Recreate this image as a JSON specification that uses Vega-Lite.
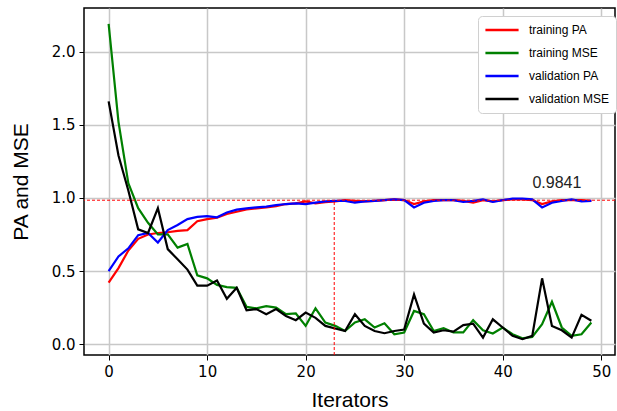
{
  "$schema": "https://vega.github.io/schema/vega-lite/v6.json",
  "autosize": "none",
  "width": 531,
  "height": 347,
  "padding": {"left": 84, "top": 8, "right": 2, "bottom": 56},
  "background": "white",
  "config": {
    "font": "Liberation Sans",
    "view": {"stroke": "black", "strokeWidth": 1.5},
    "axis": {
      "domain": false,
      "grid": true,
      "gridColor": "#c8c8c8",
      "gridWidth": 1.5,
      "tickColor": "black",
      "tickSize": 5,
      "tickWidth": 1,
      "labelFont": "DejaVu Sans",
      "labelFontSize": 15,
      "labelColor": "black",
      "labelPadding": 4,
      "titleFont": "Liberation Sans",
      "titleFontSize": 21,
      "titleFontWeight": "normal",
      "titleColor": "black"
    }
  },
  "layer": [
    {
      "data": {"values": [
        {"iter":0,"series":"training PA","value":0.42},{"iter":1,"series":"training PA","value":0.52},{"iter":2,"series":"training PA","value":0.64},{"iter":3,"series":"training PA","value":0.72},{"iter":4,"series":"training PA","value":0.75},{"iter":5,"series":"training PA","value":0.76},{"iter":6,"series":"training PA","value":0.765},{"iter":7,"series":"training PA","value":0.775},{"iter":8,"series":"training PA","value":0.78},{"iter":9,"series":"training PA","value":0.84},
        {"iter":10,"series":"training PA","value":0.855},{"iter":11,"series":"training PA","value":0.865},{"iter":12,"series":"training PA","value":0.89},{"iter":13,"series":"training PA","value":0.905},{"iter":14,"series":"training PA","value":0.921},{"iter":15,"series":"training PA","value":0.928},{"iter":16,"series":"training PA","value":0.935},{"iter":17,"series":"training PA","value":0.944},{"iter":18,"series":"training PA","value":0.958},{"iter":19,"series":"training PA","value":0.962},
        {"iter":20,"series":"training PA","value":0.976},{"iter":21,"series":"training PA","value":0.962},{"iter":22,"series":"training PA","value":0.971},{"iter":23,"series":"training PA","value":0.976},{"iter":24,"series":"training PA","value":0.985},{"iter":25,"series":"training PA","value":0.98},{"iter":26,"series":"training PA","value":0.976},{"iter":27,"series":"training PA","value":0.98},{"iter":28,"series":"training PA","value":0.985},{"iter":29,"series":"training PA","value":0.99},
        {"iter":30,"series":"training PA","value":0.985},{"iter":31,"series":"training PA","value":0.958},{"iter":32,"series":"training PA","value":0.976},{"iter":33,"series":"training PA","value":0.985},{"iter":34,"series":"training PA","value":0.985},{"iter":35,"series":"training PA","value":0.985},{"iter":36,"series":"training PA","value":0.98},{"iter":37,"series":"training PA","value":0.967},{"iter":38,"series":"training PA","value":0.985},{"iter":39,"series":"training PA","value":0.976},
        {"iter":40,"series":"training PA","value":0.985},{"iter":41,"series":"training PA","value":0.99},{"iter":42,"series":"training PA","value":0.99},{"iter":43,"series":"training PA","value":0.985},{"iter":44,"series":"training PA","value":0.958},{"iter":45,"series":"training PA","value":0.976},{"iter":46,"series":"training PA","value":0.985},{"iter":47,"series":"training PA","value":0.985},{"iter":48,"series":"training PA","value":0.985},{"iter":49,"series":"training PA","value":0.98},

        {"iter":0,"series":"training MSE","value":2.19},{"iter":1,"series":"training MSE","value":1.52},{"iter":2,"series":"training MSE","value":1.1},{"iter":3,"series":"training MSE","value":0.93},{"iter":4,"series":"training MSE","value":0.83},{"iter":5,"series":"training MSE","value":0.75},{"iter":6,"series":"training MSE","value":0.75},{"iter":7,"series":"training MSE","value":0.66},{"iter":8,"series":"training MSE","value":0.685},{"iter":9,"series":"training MSE","value":0.47},
        {"iter":10,"series":"training MSE","value":0.45},{"iter":11,"series":"training MSE","value":0.405},{"iter":12,"series":"training MSE","value":0.39},{"iter":13,"series":"training MSE","value":0.385},{"iter":14,"series":"training MSE","value":0.255},{"iter":15,"series":"training MSE","value":0.245},{"iter":16,"series":"training MSE","value":0.26},{"iter":17,"series":"training MSE","value":0.25},{"iter":18,"series":"training MSE","value":0.205},{"iter":19,"series":"training MSE","value":0.21},
        {"iter":20,"series":"training MSE","value":0.125},{"iter":21,"series":"training MSE","value":0.245},{"iter":22,"series":"training MSE","value":0.148},{"iter":23,"series":"training MSE","value":0.125},{"iter":24,"series":"training MSE","value":0.09},{"iter":25,"series":"training MSE","value":0.148},{"iter":26,"series":"training MSE","value":0.17},{"iter":27,"series":"training MSE","value":0.114},{"iter":28,"series":"training MSE","value":0.143},{"iter":29,"series":"training MSE","value":0.068},
        {"iter":30,"series":"training MSE","value":0.08},{"iter":31,"series":"training MSE","value":0.227},{"iter":32,"series":"training MSE","value":0.205},{"iter":33,"series":"training MSE","value":0.09},{"iter":34,"series":"training MSE","value":0.11},{"iter":35,"series":"training MSE","value":0.08},{"iter":36,"series":"training MSE","value":0.08},{"iter":37,"series":"training MSE","value":0.164},{"iter":38,"series":"training MSE","value":0.095},{"iter":39,"series":"training MSE","value":0.073},
        {"iter":40,"series":"training MSE","value":0.114},{"iter":41,"series":"training MSE","value":0.068},{"iter":42,"series":"training MSE","value":0.04},{"iter":43,"series":"training MSE","value":0.05},{"iter":44,"series":"training MSE","value":0.136},{"iter":45,"series":"training MSE","value":0.29},{"iter":46,"series":"training MSE","value":0.114},{"iter":47,"series":"training MSE","value":0.057},{"iter":48,"series":"training MSE","value":0.068},{"iter":49,"series":"training MSE","value":0.148},

        {"iter":0,"series":"validation PA","value":0.5},{"iter":1,"series":"validation PA","value":0.6},{"iter":2,"series":"validation PA","value":0.655},{"iter":3,"series":"validation PA","value":0.745},{"iter":4,"series":"validation PA","value":0.76},{"iter":5,"series":"validation PA","value":0.695},{"iter":6,"series":"validation PA","value":0.78},{"iter":7,"series":"validation PA","value":0.815},{"iter":8,"series":"validation PA","value":0.855},{"iter":9,"series":"validation PA","value":0.87},
        {"iter":10,"series":"validation PA","value":0.875},{"iter":11,"series":"validation PA","value":0.867},{"iter":12,"series":"validation PA","value":0.9},{"iter":13,"series":"validation PA","value":0.92},{"iter":14,"series":"validation PA","value":0.928},{"iter":15,"series":"validation PA","value":0.935},{"iter":16,"series":"validation PA","value":0.94},{"iter":17,"series":"validation PA","value":0.95},{"iter":18,"series":"validation PA","value":0.958},{"iter":19,"series":"validation PA","value":0.962},
        {"iter":20,"series":"validation PA","value":0.958},{"iter":21,"series":"validation PA","value":0.967},{"iter":22,"series":"validation PA","value":0.976},{"iter":23,"series":"validation PA","value":0.98},{"iter":24,"series":"validation PA","value":0.98},{"iter":25,"series":"validation PA","value":0.967},{"iter":26,"series":"validation PA","value":0.976},{"iter":27,"series":"validation PA","value":0.98},{"iter":28,"series":"validation PA","value":0.985},{"iter":29,"series":"validation PA","value":0.99},
        {"iter":30,"series":"validation PA","value":0.985},{"iter":31,"series":"validation PA","value":0.935},{"iter":32,"series":"validation PA","value":0.967},{"iter":33,"series":"validation PA","value":0.98},{"iter":34,"series":"validation PA","value":0.985},{"iter":35,"series":"validation PA","value":0.985},{"iter":36,"series":"validation PA","value":0.972},{"iter":37,"series":"validation PA","value":0.98},{"iter":38,"series":"validation PA","value":0.99},{"iter":39,"series":"validation PA","value":0.972},
        {"iter":40,"series":"validation PA","value":0.985},{"iter":41,"series":"validation PA","value":0.995},{"iter":42,"series":"validation PA","value":0.995},{"iter":43,"series":"validation PA","value":0.99},{"iter":44,"series":"validation PA","value":0.935},{"iter":45,"series":"validation PA","value":0.967},{"iter":46,"series":"validation PA","value":0.98},{"iter":47,"series":"validation PA","value":0.99},{"iter":48,"series":"validation PA","value":0.976},{"iter":49,"series":"validation PA","value":0.98},

        {"iter":0,"series":"validation MSE","value":1.66},{"iter":1,"series":"validation MSE","value":1.29},{"iter":2,"series":"validation MSE","value":1.05},{"iter":3,"series":"validation MSE","value":0.785},{"iter":4,"series":"validation MSE","value":0.76},{"iter":5,"series":"validation MSE","value":0.93},{"iter":6,"series":"validation MSE","value":0.65},{"iter":7,"series":"validation MSE","value":0.58},{"iter":8,"series":"validation MSE","value":0.51},{"iter":9,"series":"validation MSE","value":0.4},
        {"iter":10,"series":"validation MSE","value":0.4},{"iter":11,"series":"validation MSE","value":0.435},{"iter":12,"series":"validation MSE","value":0.31},{"iter":13,"series":"validation MSE","value":0.385},{"iter":14,"series":"validation MSE","value":0.232},{"iter":15,"series":"validation MSE","value":0.24},{"iter":16,"series":"validation MSE","value":0.205},{"iter":17,"series":"validation MSE","value":0.24},{"iter":18,"series":"validation MSE","value":0.193},{"iter":19,"series":"validation MSE","value":0.164},
        {"iter":20,"series":"validation MSE","value":0.216},{"iter":21,"series":"validation MSE","value":0.18},{"iter":22,"series":"validation MSE","value":0.125},{"iter":23,"series":"validation MSE","value":0.107},{"iter":24,"series":"validation MSE","value":0.09},{"iter":25,"series":"validation MSE","value":0.205},{"iter":26,"series":"validation MSE","value":0.125},{"iter":27,"series":"validation MSE","value":0.09},{"iter":28,"series":"validation MSE","value":0.075},{"iter":29,"series":"validation MSE","value":0.09},
        {"iter":30,"series":"validation MSE","value":0.1},{"iter":31,"series":"validation MSE","value":0.34},{"iter":32,"series":"validation MSE","value":0.14},{"iter":33,"series":"validation MSE","value":0.08},{"iter":34,"series":"validation MSE","value":0.095},{"iter":35,"series":"validation MSE","value":0.086},{"iter":36,"series":"validation MSE","value":0.13},{"iter":37,"series":"validation MSE","value":0.14},{"iter":38,"series":"validation MSE","value":0.045},{"iter":39,"series":"validation MSE","value":0.17},
        {"iter":40,"series":"validation MSE","value":0.114},{"iter":41,"series":"validation MSE","value":0.057},{"iter":42,"series":"validation MSE","value":0.034},{"iter":43,"series":"validation MSE","value":0.057},{"iter":44,"series":"validation MSE","value":0.45},{"iter":45,"series":"validation MSE","value":0.125},{"iter":46,"series":"validation MSE","value":0.095},{"iter":47,"series":"validation MSE","value":0.045},{"iter":48,"series":"validation MSE","value":0.2},{"iter":49,"series":"validation MSE","value":0.16}
      ]},
      "mark": {"type": "line", "strokeWidth": 2.2, "clip": true},
      "encoding": {
        "x": {
          "field": "iter", "type": "quantitative",
          "scale": {"domain": [-2.5, 51.4], "nice": false, "zero": false},
          "axis": {"values": [0, 10, 20, 30, 40, 50], "title": "Iterators", "titlePadding": 10, "format": "d"}
        },
        "y": {
          "field": "value", "type": "quantitative",
          "scale": {"domain": [-0.074, 2.298], "nice": false, "zero": false},
          "axis": {"values": [0, 0.5, 1, 1.5, 2], "format": ".1f", "title": "PA and MSE", "titlePadding": 20}
        },
        "color": {
          "field": "series", "type": "nominal",
          "scale": {
            "domain": ["training PA", "training MSE", "validation PA", "validation MSE"],
            "range": ["#ff0000", "#008000", "#0000ff", "#000000"]
          },
          "legend": {
            "orient": "none", "legendX": 394, "legendY": 8,
            "title": null,
            "symbolType": "stroke", "symbolSize": 1100, "symbolStrokeWidth": 2.5,
            "labelFontSize": 12, "labelFont": "Liberation Sans", "labelColor": "black",
            "labelOffset": 9,
            "fillColor": "white", "strokeColor": "#d0d0d0", "cornerRadius": 4,
            "padding": 6, "rowPadding": 7, "clipHeight": 16
          }
        }
      }
    },
    {
      "data": {"values": [{}]},
      "mark": {"type": "rule", "color": "#ff0000", "strokeDash": [3, 2], "strokeWidth": 1},
      "encoding": {"y": {"datum": 0.9841}}
    },
    {
      "data": {"values": [{}]},
      "mark": {"type": "rule", "color": "#ff0000", "strokeDash": [3, 2], "strokeWidth": 1},
      "encoding": {"x": {"datum": 22.9}, "y": {"datum": -0.074}, "y2": {"datum": 0.9841}}
    },
    {
      "data": {"values": [{}]},
      "mark": {"type": "text", "text": "0.9841", "fontSize": 16, "font": "Liberation Sans", "color": "#222222", "align": "center", "baseline": "alphabetic"},
      "encoding": {"x": {"datum": 45.5}, "y": {"datum": 1.07}}
    }
  ]
}
